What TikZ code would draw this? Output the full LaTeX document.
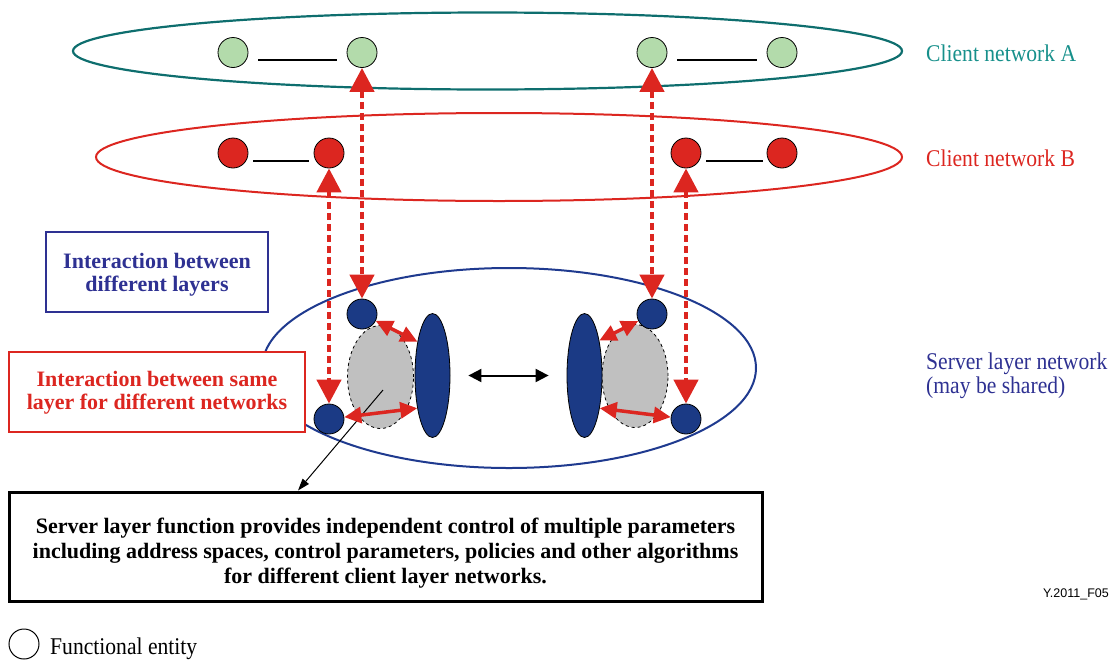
\documentclass[tikz,border=0pt]{standalone}
\usepackage{fontspec}
\setmainfont{Liberation Serif}
\newfontfamily\labelfont{Liberation Serif}[FakeStretch=0.9]
\newfontfamily\codefont{Liberation Sans}
\usetikzlibrary{shapes.geometric,arrows.meta}

\definecolor{tealline}{HTML}{0E6E6E}
\definecolor{tealtext}{HTML}{17908B}
\definecolor{leaf}{HTML}{B3DBAB}
\definecolor{alarm}{HTML}{DC2620}
\definecolor{navyfill}{HTML}{1B3A85}
\definecolor{navytext}{HTML}{2E3192}
\definecolor{navyline}{HTML}{1F3A8F}
\definecolor{shade}{HTML}{C0C0C0}

\tikzset{
  entity/.style={circle, draw=black, line width=0.8pt, minimum size=30pt, inner sep=0pt},
  network/.style={ellipse, line width=2.2pt, inner sep=0pt},
  link/.style={line width=1.8pt, black},
  vlink/.style={draw=alarm, line width=4.5pt, dash pattern=on 7pt off 4pt,
    {Triangle[length=24pt,width=24pt]}-{Triangle[length=24pt,width=24pt]}},
  hlink/.style={draw=alarm, line width=3.5pt,
    {Triangle[length=17pt,width=16pt]}-{Triangle[length=17pt,width=16pt]}},
  peer/.style={black, line width=2pt,
    {Triangle[length=13pt,width=13pt]}-{Triangle[length=13pt,width=13pt]}},
  pointer/.style={black, line width=1pt, -{Triangle[length=12pt,width=8pt]}},
  func/.style={ellipse, draw=black, line width=0.8pt, fill=navyfill, inner sep=0pt,
    minimum width=35pt, minimum height=124pt},
  store/.style={ellipse, draw=black, line width=0.8pt, dashed, fill=shade, inner sep=0pt,
    minimum width=66pt, minimum height=103pt},
  frame/.style={rectangle, inner sep=0pt},
  boldtxt/.style={font=\fontsize{22}{23}\selectfont\bfseries, align=center, inner sep=0pt},
  plaintxt/.style={font=\labelfont\fontsize{24}{24}\selectfont, inner sep=0pt, anchor=base west},
}

\begin{document}
\begin{tikzpicture}[x=1pt, y=-1pt]
\useasboundingbox (0,0) rectangle (1113,659);

% client network A
\node[network, draw=tealline, minimum width=829pt, minimum height=77pt] (netA) at (487.5,51) {};
\node[entity, fill=leaf] (ga1) at (233,52.5) {};
\node[entity, fill=leaf] (ga2) at (362,52.5) {};
\node[entity, fill=leaf] (ga3) at (652,52.5) {};
\node[entity, fill=leaf] (ga4) at (782,52.5) {};
\draw[link] ([shift={(10,7.5)}]ga1.east) -- ([shift={(-10,7.5)}]ga2.west);
\draw[link] ([shift={(10,7.5)}]ga3.east) -- ([shift={(-10,7.5)}]ga4.west);
\node[plaintxt, text=tealtext] (lblA) at (926,61.7) {Client network A};

% client network B
\node[network, draw=alarm, line width=2pt, minimum width=806pt, minimum height=88pt] (netB) at (499,157) {};
\node[entity, fill=alarm] (rb1) at (233,153) {};
\node[entity, fill=alarm] (rb2) at (329,153) {};
\node[entity, fill=alarm] (rb3) at (686,153) {};
\node[entity, fill=alarm] (rb4) at (782,153) {};
\draw[link] ([shift={(5,8)}]rb1.east) -- ([shift={(-5,8)}]rb2.west);
\draw[link] ([shift={(5,8)}]rb3.east) -- ([shift={(-4,8)}]rb4.west);
\node[plaintxt, text=alarm] (lblB) at (926,166) {Client network B};

% server layer network
\node[network, draw=navyline, line width=2pt, minimum width=494pt, minimum height=200pt] (server) at (509,368) {};
\node[plaintxt, text=navytext] (lblS1) at (926,369) {Server layer network};
\node[plaintxt, text=navytext] (lblS2) at (926,393) {(may be shared)};

% explanatory boxes
\node[frame, draw=navytext, line width=2.5pt, minimum width=222pt, minimum height=80pt] (layersbox) at (157,272) {};
\node[boldtxt, text=navytext] (layerstxt) at (157,275) {Interaction between\\different layers};
\node[frame, draw=alarm, fill=white, line width=2pt, minimum width=296pt, minimum height=80pt] (samebox) at (157,392) {};
\node[boldtxt, text=alarm] (sametxt) at (157,393) {Interaction between same\\layer for different networks};

% server layer functions
\node[store] (gray1) at (380.5,377) {};
\node[func] (bl1) at (432.5,375.5) {};
\node[store] (gray2) at (635,376) {};
\node[func] (bl2) at (584.5,375.5) {};
\node[entity, fill=navyfill] (st1) at (362,314) {};
\node[entity, fill=navyfill] (sb1) at (329,419) {};
\node[entity, fill=navyfill] (st2) at (652,314) {};
\node[entity, fill=navyfill] (sb2) at (686,419) {};

% description box
\node[frame, draw=black, line width=3pt, minimum width=753pt, minimum height=109pt] (mainbox) at (385.5,546.5) {};
\node[boldtxt, font=\fontsize{22}{25}\selectfont\bfseries] (maintxt) at (385.5,553)
  {Server layer function provides independent control of multiple parameters\\
   including address spaces, control parameters, policies and other algorithms\\
   for different client layer networks.};
\coordinate (fpt) at (383,390);
\draw[pointer] (fpt) -- ([xshift=-87.5pt]mainbox.north);

% interactions within the server layer
\draw[peer] (bl1) -- (bl2) [shorten <=18pt, shorten >=18pt];
\draw[hlink] (st1) -- (bl1.114);
\draw[hlink] (sb1) -- (bl1.245);
\draw[hlink] (bl2.67) -- (st2);
\draw[hlink] (bl2.295) -- (sb2);

% interactions between layers
\draw[vlink] (ga2) -- (st1);
\draw[vlink] (rb2) -- (sb1);
\draw[vlink] (ga3) -- (st2);
\draw[vlink] (rb3) -- (sb2);

% figure id and legend
\node[font=\codefont\fontsize{12.5}{13}\selectfont, anchor=base east, inner sep=0pt] (figid) at (1109,597) {Y.2011\_F05};
\node[entity, line width=1pt] (legend) at (24,644) {};
\node[plaintxt] (legendtxt) at (50,654) {Functional entity};
\end{tikzpicture}
\end{document}
